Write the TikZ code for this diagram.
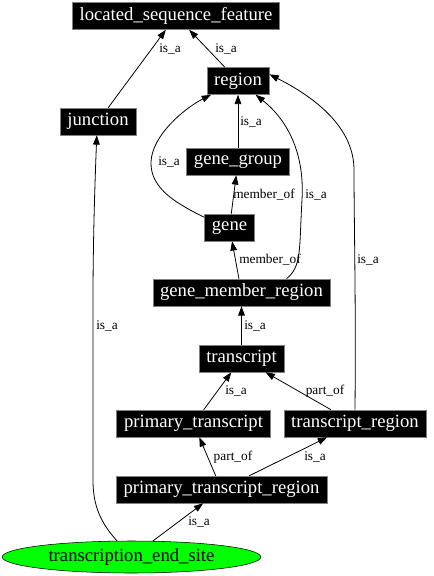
\documentclass[tikz,border=0pt]{standalone}
\usepackage{fontspec}
\setmainfont{Liberation Serif}
\usetikzlibrary{arrows.meta,shapes.geometric}
\begin{document}
\begin{tikzpicture}[x=0.75pt,y=-0.75pt,
    term/.style={fill=black,draw=gray,text=white,font=\fontsize{14}{16}\selectfont,
      inner xsep=5.5pt,inner ysep=0pt,minimum height=20.25pt},
    leaf/.style={ellipse,fill=green,draw=black,font=\fontsize{14}{16}\selectfont,
      minimum width=194pt,minimum height=24pt,inner sep=0pt},
    rel/.style={-{Triangle[length=7pt,width=5pt]},line width=0.6pt},
    lab/.style={font=\fontsize{10}{11}\selectfont,inner sep=0pt}]
  \useasboundingbox (0,0) rectangle (433,576);
  \node[term] (lsf) at (176,16) {located\_sequence\_feature};
  \node[term] (region) at (238,81) {region};
  \node[term] (junction) at (98,121.5) {junction};
  \node[term] (genegroup) at (238,161.5) {gene\_group};
  \node[term] (gene) at (229.5,227.5) {gene};
  \node[term] (gmr) at (241.5,292.5) {gene\_member\_region};
  \node[term] (transcript) at (241.5,358.5) {transcript};
  \node[term] (ptranscript) at (193.5,423.5) {primary\_transcript};
  \node[term] (tregion) at (355,423.5) {transcript\_region};
  \node[term] (ptregion) at (221.5,489.5) {primary\_transcript\_region};
  \node[leaf] (tes) at (131.5,557) {transcription\_end\_site};

  \draw[rel] (junction) -- (lsf);
  \draw[rel] (region) -- (lsf);
  \draw[rel] (genegroup) -- (region);
  \draw[rel] (gene.158) .. controls (180,205) and (150,190) .. (151,162)
    .. controls (152,135) and (185,108) .. (region.207);
  \draw[rel] (gene) -- (genegroup);
  \draw[rel] (gmr.17) .. controls (302,266) and (299,250) .. (302,200)
    .. controls (305,150) and (285,118) .. (region.322);
  \draw[rel] (gmr) -- (gene);
  \draw[rel] (tregion.north) .. controls (356,300) and (354,220) .. (354,170)
    .. controls (354,130) and (320,100) .. (region.12);
  \draw[rel] (transcript) -- (gmr);
  \draw[rel] (ptranscript) -- (transcript);
  \draw[rel] (tregion) -- (transcript);
  \draw[rel] (ptregion) -- (ptranscript);
  \draw[rel] (ptregion) -- (tregion);
  \draw[rel] (tes) -- (ptregion);
  \draw[rel] (tes.132) .. controls (100,522) and (93,505) .. (93,480)
    -- (93,300) .. controls (93,240) and (95,180) .. (junction.265);

  \node[lab] (l1) at (170,49) {is\_a};
  \node[lab] (l2) at (226,49) {is\_a};
  \node[lab] (l3) at (251,122) {is\_a};
  \node[lab] (l4) at (169,162) {is\_a};
  \node[lab] (l5) at (264,195) {member\_of};
  \node[lab] (l6) at (316,195) {is\_a};
  \node[lab] (l7) at (270,260) {member\_of};
  \node[lab] (l8) at (368,260) {is\_a};
  \node[lab] (l9) at (107,326) {is\_a};
  \node[lab] (l10) at (255,326) {is\_a};
  \node[lab] (l11) at (236,391) {is\_a};
  \node[lab] (l12) at (325,391) {part\_of};
  \node[lab] (l13) at (233,457) {part\_of};
  \node[lab] (l14) at (315,457) {is\_a};
  \node[lab] (l15) at (199,522) {is\_a};
\end{tikzpicture}
\end{document}
